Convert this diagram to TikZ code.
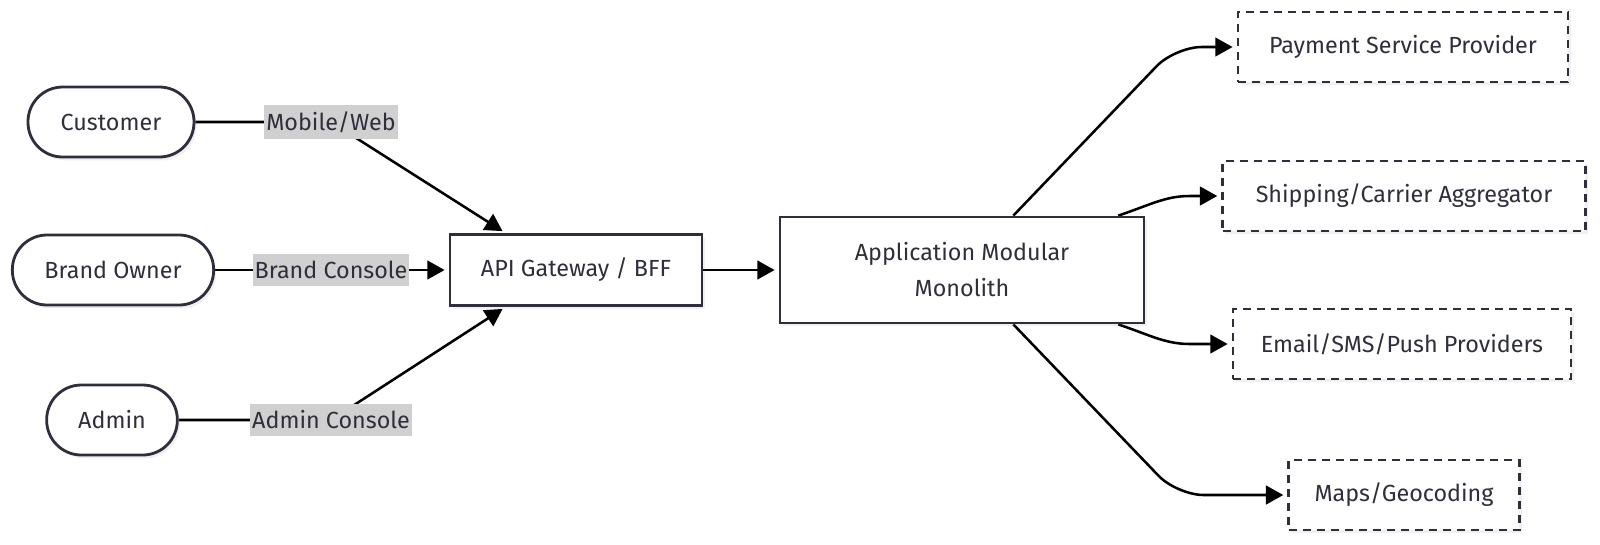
\documentclass[tikz,border=0pt]{standalone}
\usepackage{fontspec}
\setmainfont{Fira Sans}
\usetikzlibrary{arrows.meta, calc, shadows, backgrounds}
\definecolor{inkline}{HTML}{2E2E3C}
\definecolor{labelgray}{HTML}{D0D0D0}

\begin{document}
\begin{tikzpicture}[
    x=0.75pt, y=-0.75pt,
    every node/.style={text=inkline, font=\fontsize{17.5}{27}\selectfont},
    box/.style={draw=inkline, line width=2.1pt, fill=white,
        drop shadow={shadow xshift=2pt, shadow yshift=-2.5pt, opacity=0.12}},
    actor/.style={box, rounded corners=26pt, minimum height=52.5pt},
    service/.style={box, minimum height=53pt},
    external/.style={box, dash pattern=on 6pt off 4.5pt, minimum height=52.5pt},
    edge label/.style={fill=labelgray, inner xsep=1.5pt, inner ysep=5pt},
    pile/.style={line width=1.9pt, black, shorten >=3pt,
        -{Triangle[length=13pt,width=14pt]}}
    ]
    \useasboundingbox (0,0) rectangle (1600,544);
    % Actors
    \node (customer) at (111,122) [actor, minimum width=124.5pt] {Customer};
    \node (owner) at (113,270) [actor, minimum width=151pt] {Brand Owner};
    \node (admin) at (112,420) [actor, minimum width=98pt] {Admin};
    % Core
    \node (gateway) at (576,270) [service, minimum width=189pt] {API Gateway / BFF};
    \node (monolith) at (962,270) [service, minimum width=273pt,
        minimum height=79.5pt, align=center] {Application Modular\\Monolith};
    % External providers
    \node (payment) at (1403,47) [external, minimum width=247.5pt] {Payment Service Provider};
    \node (shipping) at (1404,196) [external, minimum width=272pt] {Shipping/Carrier Aggregator};
    \node (email) at (1402,344) [external, minimum width=253.5pt] {Email/SMS/Push Providers};
    \node (maps) at (1404,495) [external, minimum width=173pt] {Maps/Geocoding};
    % Labels
    \node (mobweb) at (331,122) [edge label] {Mobile/Web};
    \node (brandcon) at (331,270) [edge label] {Brand Console};
    \node (admincon) at (331,420) [edge label] {Admin Console};
    % Bends
    \coordinate (payturn) at (1175,47);
    \coordinate (shipturn) at (1190,196);
    \coordinate (emailturn) at (1190,344);
    \coordinate (mapsturn) at (1177,495);
    % Links
    \begin{scope}[on background layer]
        \draw[pile] (customer.east) -- (mobweb.center)
            -- ($(gateway.north west)!0.225!(gateway.north east)$);
        \draw[pile] (owner.east) -- (gateway.west);
        \draw[pile] (admin.east) -- (admincon.center)
            -- ($(gateway.south west)!0.225!(gateway.south east)$);
        \draw[pile] (gateway) -- (monolith);
        \draw[pile, rounded corners=20pt]
            ($(monolith.north west)!0.64!(monolith.north east)$)
            -- (payturn) -- (payment.west);
        \draw[pile] ($(monolith.north west)!0.926!(monolith.north east)$)
            .. controls (1150,205) and (1165,196) .. (shipturn) -- (shipping.west);
        \draw[pile] ($(monolith.south west)!0.926!(monolith.south east)$)
            .. controls (1150,335) and (1165,344) .. (emailturn) -- (email.west);
        \draw[pile, rounded corners=20pt]
            ($(monolith.south west)!0.64!(monolith.south east)$)
            -- (mapsturn) -- (maps.west);
    \end{scope}
\end{tikzpicture}
\end{document}
